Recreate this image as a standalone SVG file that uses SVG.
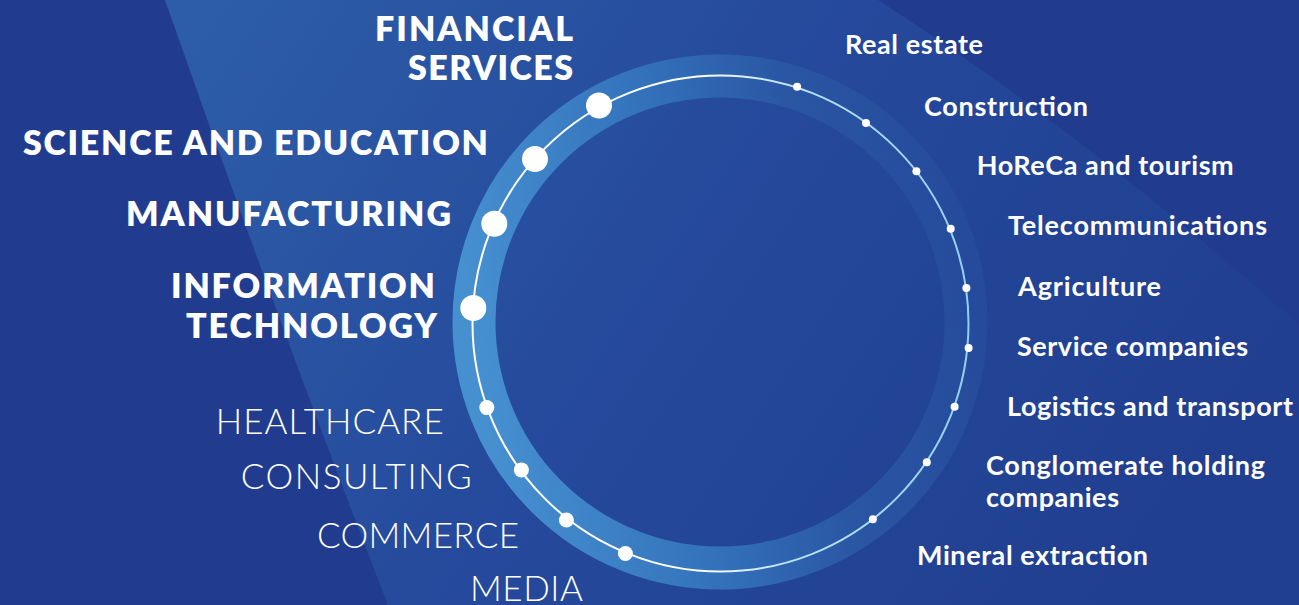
<svg xmlns="http://www.w3.org/2000/svg" width="1299" height="605" viewBox="0 0 1299 605">
  <defs>
    <linearGradient id="wedge" gradientUnits="userSpaceOnUse" x1="200" y1="0" x2="1100" y2="600">
      <stop offset="0" stop-color="#2d5da8"/>
      <stop offset="0.5" stop-color="#25499c"/>
      <stop offset="1" stop-color="#213f90"/>
    </linearGradient>
    <linearGradient id="band" x1="0" y1="0.55" x2="1" y2="0.4">
      <stop offset="0" stop-color="#4690d0"/>
      <stop offset="0.4" stop-color="#3473bc"/>
      <stop offset="0.7" stop-color="#2a56a4"/>
      <stop offset="1" stop-color="#264b9c"/>
    </linearGradient>
    <linearGradient id="line" x1="0" y1="0.5" x2="1" y2="0.5">
      <stop offset="0" stop-color="#ffffff"/>
      <stop offset="0.45" stop-color="#ffffff"/>
      <stop offset="0.65" stop-color="#b8e0f6"/>
      <stop offset="1" stop-color="#94cff0"/>
    </linearGradient>
    <style>
      .big { font-family: Lato, "Noto Sans", sans-serif; font-weight: 800; font-size: 34px; fill: #ffffff; }
      .light { font-family: Lato, "Noto Sans", sans-serif; font-weight: 300; font-size: 35px; fill: #ffffff; }
      .small { font-family: Lato, "Noto Sans", sans-serif; font-weight: 700; font-size: 27px; fill: #ffffff; }
      .dot { fill: #ffffff; }
    </style>
  </defs>

  <!-- background -->
  <rect x="0" y="0" width="1299" height="605" fill="#213c8f"/>
  <path d="M165,0 L878,0 Q1080,130 1299,325 L1299,605 L388,605 Q270,300 165,0 Z" fill="url(#wedge)"/>

  <!-- connectors: the ring -->
  <g id="connectors">
    <circle cx="720" cy="322" r="246" fill="none" stroke="url(#band)" stroke-width="43"/>
    <circle cx="720.5" cy="323.5" r="248" fill="none" stroke="url(#line)" stroke-width="2"/>
  </g>

  <!-- left: major sectors -->
  <g id="node-financial">
    <circle class="dot" cx="599" cy="105.5" r="13"/>
    <text class="big" x="375" y="41" textLength="198" lengthAdjust="spacing">FINANCIAL</text>
    <text class="big" x="408" y="80" textLength="165" lengthAdjust="spacing">SERVICES</text>
  </g>
  <g id="node-science">
    <circle class="dot" cx="535" cy="159" r="13"/>
    <text class="big" x="23" y="155" textLength="465" lengthAdjust="spacing">SCIENCE AND EDUCATION</text>
  </g>
  <g id="node-manufacturing">
    <circle class="dot" cx="494.3" cy="223.8" r="13"/>
    <text class="big" x="126" y="226" textLength="325" lengthAdjust="spacing">MANUFACTURING</text>
  </g>
  <g id="node-it">
    <circle class="dot" cx="473.3" cy="308" r="13"/>
    <text class="big" x="171" y="298" textLength="264" lengthAdjust="spacing">INFORMATION</text>
    <text class="big" x="186" y="338" textLength="251" lengthAdjust="spacing">TECHNOLOGY</text>
  </g>

  <!-- left: minor sectors -->
  <g id="node-healthcare">
    <circle class="dot" cx="486.8" cy="407.6" r="7.5"/>
    <text class="light" x="215.7" y="434" textLength="228" lengthAdjust="spacing">HEALTHCARE</text>
  </g>
  <g id="node-consulting">
    <circle class="dot" cx="521.4" cy="469.9" r="7.5"/>
    <text class="light" x="240.7" y="489" textLength="231" lengthAdjust="spacing">CONSULTING</text>
  </g>
  <g id="node-commerce">
    <circle class="dot" cx="566.4" cy="520" r="7.5"/>
    <text class="light" x="317" y="548" textLength="202" lengthAdjust="spacing">COMMERCE</text>
  </g>
  <g id="node-media">
    <circle class="dot" cx="625.4" cy="553.5" r="7.5"/>
    <text class="light" x="470" y="601" textLength="113" lengthAdjust="spacing">MEDIA</text>
  </g>

  <!-- right: other sectors -->
  <g id="node-real-estate">
    <circle class="dot" cx="797.1" cy="86.8" r="4"/>
    <text class="small" x="845" y="54" textLength="138" lengthAdjust="spacing">Real estate</text>
  </g>
  <g id="node-construction">
    <circle class="dot" cx="866" cy="122.9" r="4"/>
    <text class="small" x="924" y="115.7" textLength="164" lengthAdjust="spacing">Construction</text>
  </g>
  <g id="node-horeca">
    <circle class="dot" cx="916.4" cy="171.2" r="4"/>
    <text class="small" x="976.7" y="175" textLength="257" lengthAdjust="spacing">HoReCa and tourism</text>
  </g>
  <g id="node-telecom">
    <circle class="dot" cx="950.7" cy="228.8" r="4"/>
    <text class="small" x="1008" y="235" textLength="259" lengthAdjust="spacing">Telecommunications</text>
  </g>
  <g id="node-agriculture">
    <circle class="dot" cx="966.4" cy="287.9" r="4"/>
    <text class="small" x="1018" y="296" textLength="143" lengthAdjust="spacing">Agriculture</text>
  </g>
  <g id="node-service">
    <circle class="dot" cx="968.6" cy="348.1" r="4"/>
    <text class="small" x="1017" y="356" textLength="231" lengthAdjust="spacing">Service companies</text>
  </g>
  <g id="node-logistics">
    <circle class="dot" cx="954.6" cy="406.8" r="4"/>
    <text class="small" x="1007" y="415.7" textLength="286" lengthAdjust="spacing">Logistics and transport</text>
  </g>
  <g id="node-conglomerate">
    <circle class="dot" cx="926.8" cy="462.3" r="4"/>
    <text class="small" x="986" y="475" textLength="279" lengthAdjust="spacing">Conglomerate holding</text>
    <text class="small" x="986" y="507" textLength="133" lengthAdjust="spacing">companies</text>
  </g>
  <g id="node-mineral">
    <circle class="dot" cx="872.9" cy="519.3" r="4"/>
    <text class="small" x="917" y="565" textLength="231" lengthAdjust="spacing">Mineral extraction</text>
  </g>
</svg>
